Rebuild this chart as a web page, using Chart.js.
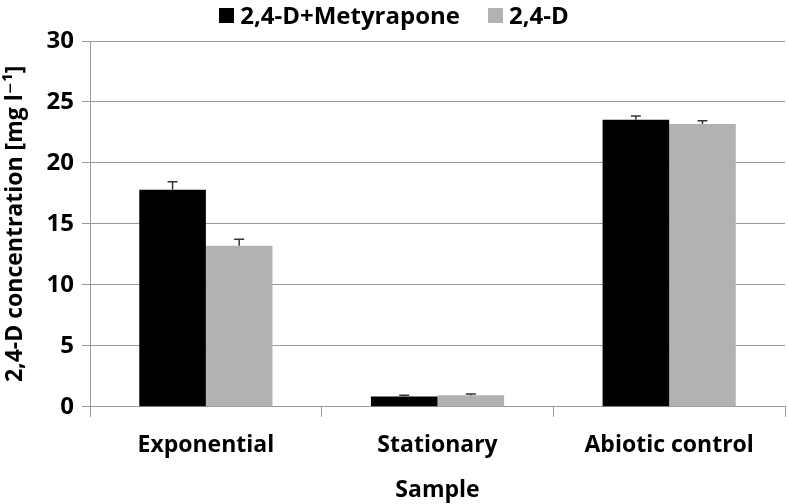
<!DOCTYPE html>
<html>
<head>
<meta charset="utf-8">
<script src="https://cdn.jsdelivr.net/npm/chart.js@4"></script>
<style>
  body { margin: 0; background: #fff; }
  #wrap { position: relative; width: 788px; height: 504px; }
  #legend {
    position: absolute; top: 0px; left: 0; width: 788px;
    display: flex; justify-content: center; gap: 28px;
    font-family: 'Open Sans', 'DejaVu Sans', sans-serif;
    font-weight: bold; font-size: 24px; line-height: 30px; color: #000;
  }
  #legend span.item { display: flex; align-items: center; }
  #legend span.box { display: inline-block; width: 15px; height: 15px; margin-right: 6px; }
</style>
</head>
<body>
<div id="wrap">
  <div id="legend"></div>
  <canvas id="myChart"></canvas>
</div>
<script>
const categories = ["Exponential", "Stationary", "Abiotic control"];
const metyraponeValues = [17.8, 0.85, 23.55];
const metyraponeErrors = [0.65, 0.1, 0.3];
const dValues = [13.2, 0.95, 23.2];
const dErrors = [0.55, 0.1, 0.25];
const yTicks = [0, 5, 10, 15, 20, 25, 30];

const fontFamily = "'Open Sans', 'DejaVu Sans', sans-serif";

// draws the little T-shaped error bars on top of each bar
const errorBars = {
    id: "errorBars",
    afterDatasetsDraw(chart) {
        const ctx = chart.ctx;
        const yScale = chart.scales.y;
        chart.data.datasets.forEach((ds, i) => {
            const meta = chart.getDatasetMeta(i);
            meta.data.forEach((bar, j) => {
                const top = yScale.getPixelForValue(ds.data[j] + ds.errors[j]);
                ctx.save();
                ctx.strokeStyle = "#333";
                ctx.lineWidth = 1.5;
                ctx.beginPath();
                ctx.moveTo(bar.x, bar.y);
                ctx.lineTo(bar.x, top);
                ctx.moveTo(bar.x - 5, top);
                ctx.lineTo(bar.x + 5, top);
                ctx.stroke();
                ctx.restore();
            });
        });
    }
};

const ctx = document.getElementById("myChart").getContext("2d");

const chart = new Chart(ctx, {
    type: "bar",
    data: {
        labels: categories,
        datasets: [{
            label: "2,4-D+Metyrapone",
            data: metyraponeValues,
            errors: metyraponeErrors,
            backgroundColor: "#000000",
            borderWidth: 0
        }, {
            label: "2,4-D",
            data: dValues,
            errors: dErrors,
            backgroundColor: "#b2b2b2",
            borderWidth: 0
        }]
    },
    options: {
        responsive: true,
        maintainAspectRatio: false,
        animation: false,
        datasets: {
            bar: {
                categoryPercentage: 0.575,
                barPercentage: 1.0
            }
        },
        layout: {
            padding: { left: 2, right: 3, top: 41, bottom: 0 }
        },
        scales: {
            x: {
                offset: true,
                grid: {
                    offset: true,
                    drawOnChartArea: false,
                    color: "#999",
                    tickLength: 10,
                    lineWidth: 1
                },
                border: { color: "#999" },
                ticks: {
                    color: "#000",
                    padding: 15,
                    font: { family: fontFamily, size: 23, weight: "bold" }
                },
                title: {
                    display: true,
                    text: "Sample",
                    color: "#000",
                    padding: { top: 2, bottom: 0 },
                    font: { family: fontFamily, size: 23, weight: "bold" }
                }
            },
            y: {
                min: 0,
                max: 30,
                afterBuildTicks: (axis) => {
                    axis.ticks = yTicks.map(v => ({ value: v }));
                },
                grid: {
                    color: "#999",
                    tickLength: 8,
                    lineWidth: 1
                },
                border: { color: "#999" },
                ticks: {
                    color: "#000",
                    padding: 8,
                    font: { family: fontFamily, size: 24, weight: "bold" }
                },
                title: {
                    display: true,
                    text: "2,4-D concentration [mg l⁻¹]",
                    color: "#000",
                    padding: { top: 0, bottom: 9 },
                    font: { family: fontFamily, size: 23, weight: "bold" }
                }
            }
        },
        plugins: {
            legend: { display: false },
            tooltip: { enabled: false }
        }
    },
    plugins: [errorBars]
});

// html legend built from the datasets
const legendEl = document.getElementById("legend");
chart.data.datasets.forEach(ds => {
    const item = document.createElement("span");
    item.className = "item";
    const box = document.createElement("span");
    box.className = "box";
    box.style.background = ds.backgroundColor;
    item.appendChild(box);
    item.appendChild(document.createTextNode(ds.label));
    legendEl.appendChild(item);
});
</script>
</body>
</html>
